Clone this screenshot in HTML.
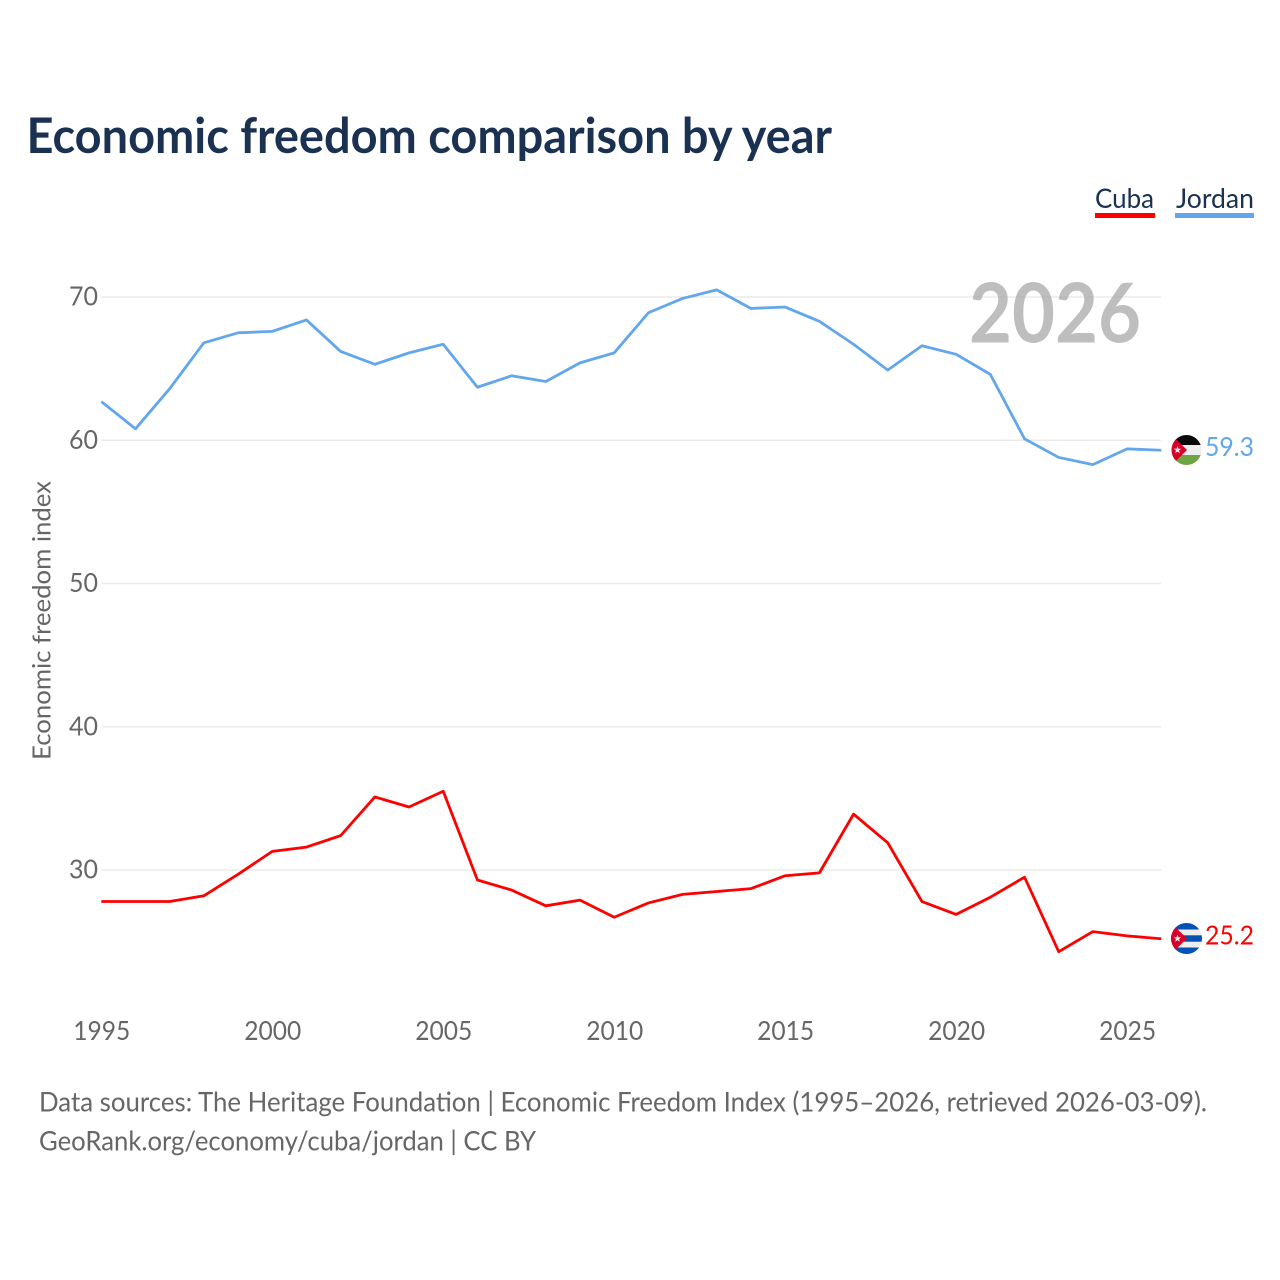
<!DOCTYPE html>
<html lang="en">
<head>
<meta charset="utf-8">
<title>Economic freedom comparison by year</title>
<style>
html,body{margin:0;padding:0;background:#fff;width:1280px;height:1280px;overflow:hidden}
svg{display:block}
text{font-family:"Lato","Carlito","Liberation Sans",sans-serif}
</style>
</head>
<body>
<svg id="chart" xmlns="http://www.w3.org/2000/svg" width="1280" height="1280" viewBox="0 0 1280 1280">
  <defs>
    <clipPath id="jordan-clip"><circle cx="1186.5" cy="450" r="15"/></clipPath>
    <clipPath id="cuba-clip"><circle cx="1186.5" cy="938.5" r="15.5"/></clipPath>
  </defs>
  <rect width="1280" height="1280" fill="#fff"/>
  <text x="26.5" y="153" font-size="48.5" font-weight="700" fill="#1a3152" textLength="805.5" lengthAdjust="spacingAndGlyphs">Economic freedom comparison by year</text>

  <g>
    <text x="1095" y="208" font-size="27" fill="#1a3152" textLength="59" lengthAdjust="spacingAndGlyphs">Cuba</text>
    <rect x="1095" y="213" width="60" height="5" fill="#ff0000"/>
  </g>
  <g>
    <text x="1176" y="208" font-size="27" fill="#1a3152" textLength="78" lengthAdjust="spacingAndGlyphs">Jordan</text>
    <rect x="1175" y="213" width="79" height="5" fill="#62a6ec"/>
  </g>

  <g id="grid"></g>
  <g id="yticks"></g>
  <g id="xticks"></g>
  <text transform="translate(50.5,620.5) rotate(-90)" text-anchor="middle" font-size="25.5" fill="#666" textLength="279" lengthAdjust="spacingAndGlyphs">Economic freedom index</text>
  <text x="969" y="342.5" font-size="82" font-weight="700" fill="#a8a8a8" fill-opacity="0.75" textLength="172" lengthAdjust="spacingAndGlyphs">2026</text>

  <g id="series"></g>

  <g clip-path="url(#jordan-clip)">
    <rect x="1171" y="435" width="31" height="10" fill="#0a0a0a"/>
    <rect x="1171" y="445" width="31" height="10" fill="#eeeeee"/>
    <rect x="1171" y="455" width="31" height="10" fill="#6da544"/>
    <polygon points="1171,434 1187,450 1171,466" fill="#d80027"/>
    <polygon transform="translate(1177.5,450)" points="0,-4 0.94,-1.29 3.8,-1.24 1.52,0.49 2.35,3.24 0,1.6 -2.35,3.24 -1.52,0.49 -3.8,-1.24 -0.94,-1.29" fill="#eeeeee"/>
  </g>
  <g clip-path="url(#cuba-clip)">
    <rect x="1171" y="923" width="31" height="31" fill="#eeeeee"/>
    <rect x="1171" y="923" width="31" height="6.5" fill="#0052b4"/>
    <rect x="1171" y="935.3" width="31" height="6.4" fill="#0052b4"/>
    <rect x="1171" y="947.5" width="31" height="7" fill="#0052b4"/>
    <polygon points="1171,923 1187,938.5 1171,954" fill="#d80027"/>
    <polygon transform="translate(1177.5,938.5)" points="0,-4 0.94,-1.29 3.8,-1.24 1.52,0.49 2.35,3.24 0,1.6 -2.35,3.24 -1.52,0.49 -3.8,-1.24 -0.94,-1.29" fill="#eeeeee"/>
  </g>
  <text x="1205" y="456" font-size="26.5" fill="#62a6ec" textLength="49" lengthAdjust="spacingAndGlyphs">59.3</text>
  <text x="1205" y="944.5" font-size="26.5" fill="#ff0000" textLength="49" lengthAdjust="spacingAndGlyphs">25.2</text>

  <text x="39" y="1111.5" font-size="27" fill="#666" textLength="1168" lengthAdjust="spacingAndGlyphs">Data sources: The Heritage Foundation | Economic Freedom Index (1995–2026, retrieved 2026-03-09).</text>
  <a><text x="39" y="1150.5" font-size="27" fill="#666" textLength="497" lengthAdjust="spacingAndGlyphs">GeoRank.org/economy/cuba/jordan | CC BY</text></a>
</svg>
<script>
const years = [1995,1996,1997,1998,1999,2000,2001,2002,2003,2004,2005,2006,2007,2008,2009,2010,2011,2012,2013,2014,2015,2016,2017,2018,2019,2020,2021,2022,2023,2024,2025,2026];
const jordanValues = [62.7,60.8,63.6,66.8,67.5,67.6,68.4,66.2,65.3,66.1,66.7,63.7,64.5,64.1,65.4,66.1,68.9,69.9,70.5,69.2,69.3,68.3,66.7,64.9,66.6,66.0,64.6,60.1,58.8,58.3,59.4,59.3];
const cubaValues = [27.8,27.8,27.8,28.2,29.7,31.3,31.6,32.4,35.1,34.4,35.5,29.3,28.6,27.5,27.9,26.7,27.7,28.3,28.5,28.7,29.6,29.8,33.9,31.9,27.8,26.9,28.1,29.5,24.3,25.7,25.4,25.2];
const yTickValues = [30,40,50,60,70];
const xTickValues = [1995,2000,2005,2010,2015,2020,2025];

const NS = 'http://www.w3.org/2000/svg';
function xScale(year) { return 101.3 + (year - 1995) * (1161.3 - 101.3) / 31; }
function yScale(value) { return 870 - (value - 30) * (870 - 297) / 40; }
function make(tag, attrs, parent) {
  const el = document.createElementNS(NS, tag);
  for (const key in attrs) el.setAttribute(key, attrs[key]);
  parent.appendChild(el);
  return el;
}
const grid = document.getElementById('grid');
const yticks = document.getElementById('yticks');
const xticks = document.getElementById('xticks');
const series = document.getElementById('series');

yTickValues.forEach(function (v) {
  const line = make('line', {x1: xScale(1995), x2: xScale(2026), y1: yScale(v), y2: yScale(v), stroke: '#ebebeb', 'stroke-width': 1.5}, grid);
  
  
  const label = make('text', {x: 98, y: yScale(v) + 8.5, 'text-anchor': 'end', 'font-size': 26.5, fill: '#666', textLength: 29, lengthAdjust: 'spacingAndGlyphs'}, yticks);
  label.textContent = v;
  
  
});

xTickValues.forEach(function (y) {
  const label = make('text', {x: xScale(y) + 0.5, y: 1040, 'text-anchor': 'middle', 'font-size': 26.5, fill: '#666', textLength: 57, lengthAdjust: 'spacingAndGlyphs'}, xticks);
  label.textContent = y;
  
  
});

function drawLine(values, colour) {
  const d = values.map(function (v, i) {
    return (i ? 'L' : 'M') + xScale(years[i]).toFixed(2) + ' ' + yScale(v).toFixed(2);
  }).join(' ');
  return make('path', {d: d, fill: 'none', stroke: colour, 'stroke-width': 2.8, 'stroke-linejoin': 'round'}, series);
}
const jordanLine = drawLine(jordanValues, '#62a6ec');


const cubaLine = drawLine(cubaValues, '#ff0000');


</script>
</body>
</html>
